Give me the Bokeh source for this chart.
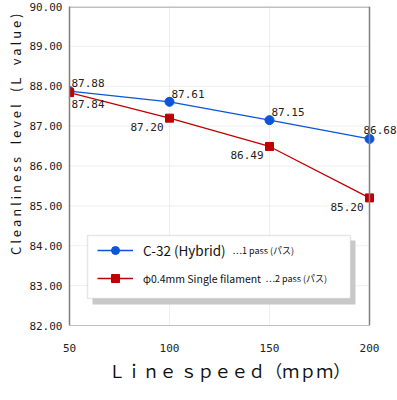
import math
from bokeh.plotting import figure
from bokeh.models import (FixedTicker, PrintfTickFormatter, Label, Legend,
                          LegendItem, BoxAnnotation, Range1d, Title, Span)
from bokeh.core.properties import value
from bokeh.embed import file_html
from bokeh.resources import INLINE

# ---- data ----
line_speed = [50, 100, 150, 200]
c32_hybrid = [87.88, 87.61, 87.15, 86.68]
single_filament = [87.84, 87.20, 86.49, 85.20]
x_ticks = [50, 100, 150, 200]
y_ticks = [82, 83, 84, 85, 86, 87, 88, 89, 90]
series_names = ["C-32 (Hybrid)", "φ0.4mm Single filament"]
series_notes = ["…1 pass (パス)", "…2 pass (パス)"]
x_title = "Ｌｉｎｅ ｓｐｅｅｄ（ｍｐｍ）"
y_title_words = ["Cleanliness", "level", "(L", "value)"]

BLUE = "#0a55d8"
RED = "#c00000"
JP = "Noto Sans CJK JP"
MONO = "DejaVu Sans Mono"
FRAME_DARK = "#7f7f7f"
FRAME_LIGHT = "#c0c0c0"
GRID = "#dedede"

# letter-spaced y title (en space keeps word gaps from collapsing)
y_title = " \u2002 ".join(" ".join(w) for w in y_title_words)

# the frame extends past x=200 so the last data label has room, like the reference
x_end = x_ticks[-1] + 14

p = figure(width=397, height=400, output_backend="svg", toolbar_location=None,
           x_range=Range1d(x_ticks[0], x_end), y_range=Range1d(y_ticks[0], y_ticks[-1]),
           min_border_left=69, min_border_right=0, min_border_top=6, min_border_bottom=75,
           background_fill_color="white", border_fill_color="white")
p.outline_line_color = None

# axes
p.xaxis.ticker = FixedTicker(ticks=x_ticks)
p.yaxis.ticker = FixedTicker(ticks=y_ticks)
p.yaxis.formatter = PrintfTickFormatter(format="%.2f")
for ax in (p.xaxis[0], p.yaxis[0]):
    ax.major_tick_line_color = None
    ax.minor_tick_line_color = None
    ax.major_label_text_font = MONO
    ax.major_label_text_font_size = "11px"
    ax.major_label_text_color = "#222222"
p.xaxis.major_label_standoff = 12
p.yaxis.major_label_standoff = 1
p.xaxis.bounds = (x_ticks[0], x_ticks[-1])
p.xaxis.axis_line_color = FRAME_LIGHT
p.yaxis.axis_line_color = FRAME_DARK
p.yaxis.axis_line_width = 1.5

# grid: vertical via xgrid, horizontal as segments limited to the plot area
p.xgrid.ticker = FixedTicker(ticks=x_ticks)
p.xgrid.grid_line_color = GRID
p.xgrid.grid_line_dash = "1 1"
p.ygrid.grid_line_color = None
inner_y = y_ticks[1:-1]
p.segment(x0=[x_ticks[0]] * len(inner_y), x1=[x_ticks[-1]] * len(inner_y), y0=inner_y, y1=inner_y,
          line_color=GRID, line_dash="1 1", line_width=1)
# frame: top edge (light) and right edge (dark)
p.segment(x0=[x_ticks[0]], x1=[x_ticks[-1]], y0=[y_ticks[-1]], y1=[y_ticks[-1]],
          line_color=FRAME_LIGHT, line_width=3)
p.add_layout(Span(location=x_ticks[-1], dimension="height", line_color=FRAME_DARK, line_width=1.5))

# axis titles
p.add_layout(Title(text=y_title, align="right", offset=7, text_font=JP,
                   text_font_size="13px", text_font_style="normal", text_color="#111111",
                   standoff=3), "left")
p.add_layout(Title(text=x_title, align="left", offset=39, text_font=JP,
                   text_font_size="17px", text_font_style="normal", text_color="#111111",
                   standoff=3), "below")

# series
blue_line = p.line(line_speed, c32_hybrid, line_color=BLUE, line_width=1.3)
blue_pts = p.scatter(line_speed, c32_hybrid, marker="circle", size=9,
                     fill_color=BLUE, line_color=BLUE)
red_line = p.line(line_speed, single_filament, line_color=RED, line_width=1.3)
red_pts = p.scatter(line_speed, single_filament, marker="square", size=8,
                    fill_color=RED, line_color=RED)

lbl_kw = dict(text_baseline="middle", text_font=value(MONO), text_font_size="11px",
              text_color="#222222")
p.text(x=line_speed[:-1], y=c32_hybrid[:-1], text=[f"{v:.2f}" for v in c32_hybrid[:-1]],
       x_offset=2, y_offset=-8, text_align="left", **lbl_kw)
p.text(x=line_speed[-1:], y=c32_hybrid[-1:], text=[f"{v:.2f}" for v in c32_hybrid[-1:]],
       x_offset=27, y_offset=-9, text_align="right", **lbl_kw)
p.text(x=line_speed[:1], y=single_filament[:1], text=[f"{v:.2f}" for v in single_filament[:1]],
       x_offset=2, y_offset=11, text_align="left", **lbl_kw)
p.text(x=line_speed[1:], y=single_filament[1:], text=[f"{v:.2f}" for v in single_filament[1:]],
       x_offset=-6, y_offset=9, text_align="right", **lbl_kw)

# legend box with shadow
shadow = BoxAnnotation(left=23, right=286, bottom=21, top=85,
                       left_units="screen", right_units="screen",
                       bottom_units="screen", top_units="screen",
                       fill_color="#c8c8c8", fill_alpha=1.0, line_alpha=0)
box = BoxAnnotation(left=18, right=281, bottom=27, top=90,
                    left_units="screen", right_units="screen",
                    bottom_units="screen", top_units="screen",
                    fill_color="white", fill_alpha=1.0, line_color="#b0b0b0", line_width=1.5)
p.add_layout(shadow)
p.add_layout(box)

leg_common = dict(glyph_width=36, glyph_height=20, label_height=20, label_standoff=10,
                  padding=0, margin=0, spacing=0, border_line_alpha=0,
                  background_fill_alpha=0, label_text_font=JP, label_text_color="#111111",
                  label_text_baseline="middle")
leg1 = Legend(items=[LegendItem(label=value(series_names[0]), renderers=[blue_line, blue_pts])],
              location=(28, 65), label_text_font_size="13.5px", **leg_common)
leg2 = Legend(items=[LegendItem(label=value(series_names[1]), renderers=[red_line, red_pts])],
              location=(28, 37), label_text_font_size="10.5px", **leg_common)
p.add_layout(leg1)
p.add_layout(leg2)

p.add_layout(Label(x=163, y=75, x_units="screen", y_units="screen", text=series_notes[0],
                   text_font=JP, text_font_size="9px", text_baseline="middle",
                   text_color="#111111"))
p.add_layout(Label(x=196, y=47, x_units="screen", y_units="screen", text=series_notes[1],
                   text_font=JP, text_font_size="9px", text_baseline="middle",
                   text_color="#111111"))

open("out.html", "w").write(file_html(p, INLINE, title="chart"))
